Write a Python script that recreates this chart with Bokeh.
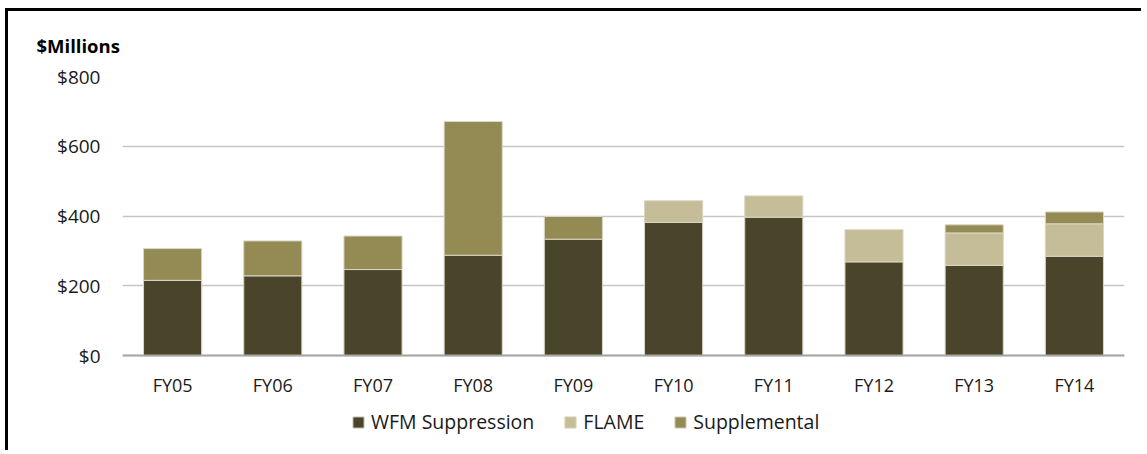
from bokeh.plotting import figure
from bokeh.models import (FactorRange, ColumnDataSource, Legend, LegendItem,
                          NumeralTickFormatter, FixedTicker, Range1d)
from bokeh.embed import file_html
from bokeh.resources import INLINE

years = ["FY05", "FY06", "FY07", "FY08", "FY09", "FY10", "FY11", "FY12", "FY13", "FY14"]
wfm_suppression = [216, 229, 247, 288, 334, 382, 397, 269, 259, 285]
flame = [0, 0, 0, 0, 0, 62, 61, 92, 93, 93]
supplemental = [91, 100, 96, 383, 65, 0, 0, 0, 23, 34]
y_ticks = [0, 200, 400, 600, 800]

series = [("WFM Suppression", wfm_suppression, "#4a452a"),
          ("FLAME", flame, "#c4bd97"),
          ("Supplemental", supplemental, "#948a54")]

FONT = "Open Sans"

# frame extends below zero so that axis labels and legend sit inside it
p = figure(x_range=FactorRange(factors=years), y_range=Range1d(-280, 800),
           width=1136, height=442, output_backend="svg", toolbar_location=None,
           min_border_left=114, min_border_right=20, min_border_top=64,
           min_border_bottom=0)
p.styles = {"border-left": "3px solid #000", "border-top": "3px solid #000",
            "margin-left": "5px", "margin-top": "8px"}
p.outline_line_color = None
p.background_fill_color = "white"
p.border_fill_color = "white"

p.title.text = "$Millions"
p.title.text_font = FONT
p.title.text_font_style = "bold"
p.title.text_font_size = "18.5px"
p.title.text_color = "#000000"
p.title.align = "left"
p.title.offset = -86
p.title.standoff = 38

items = []
base = [0] * len(years)
for name, vals, color in series:
    xs, bottoms, tops = [], [], []
    for i, v in enumerate(vals):
        if v > 0:
            xs.append(years[i])
            bottoms.append(base[i])
            tops.append(base[i] + v)
        base[i] += v
    src = ColumnDataSource(dict(x=xs, bottom=bottoms, top=tops))
    r = p.vbar(x="x", bottom="bottom", top="top", width=0.58, source=src,
               fill_color=color, line_color="#d9d6c4", line_width=1)
    items.append(LegendItem(label=name, renderers=[r]))

p.xgrid.visible = False
p.ygrid.grid_line_color = "#c6c6c6"
p.ygrid.grid_line_width = 1.5
p.ygrid.ticker = FixedTicker(ticks=y_ticks)

p.yaxis.ticker = FixedTicker(ticks=y_ticks)
p.yaxis.formatter = NumeralTickFormatter(format="$0,0")
p.yaxis.axis_line_color = None
p.yaxis.major_tick_line_color = None
p.yaxis.minor_tick_line_color = None
p.yaxis.major_label_standoff = 16
p.yaxis.major_label_text_font = FONT
p.yaxis.major_label_text_font_size = "19px"
p.yaxis.major_label_text_color = "#1a1a1a"

p.xaxis.fixed_location = 0
p.xaxis.axis_line_color = "#a6a6a6"
p.xaxis.axis_line_width = 2
p.xaxis.major_tick_line_color = None
p.xaxis.minor_tick_line_color = None
p.xaxis.major_label_standoff = 11
p.xaxis.major_label_text_font = FONT
p.xaxis.major_label_text_font_size = "18px"
p.xaxis.major_label_text_color = "#1a1a1a"

legend = Legend(items=items, orientation="horizontal", location=(229, 18),
                glyph_width=14, glyph_height=14, label_standoff=6, spacing=29,
                padding=0, margin=0, border_line_color=None,
                background_fill_alpha=0, label_text_font=FONT,
                label_text_font_size="19.5px", label_text_color="#1a1a1a")
p.add_layout(legend, "center")

open("out.html", "w").write(file_html(p, INLINE))
